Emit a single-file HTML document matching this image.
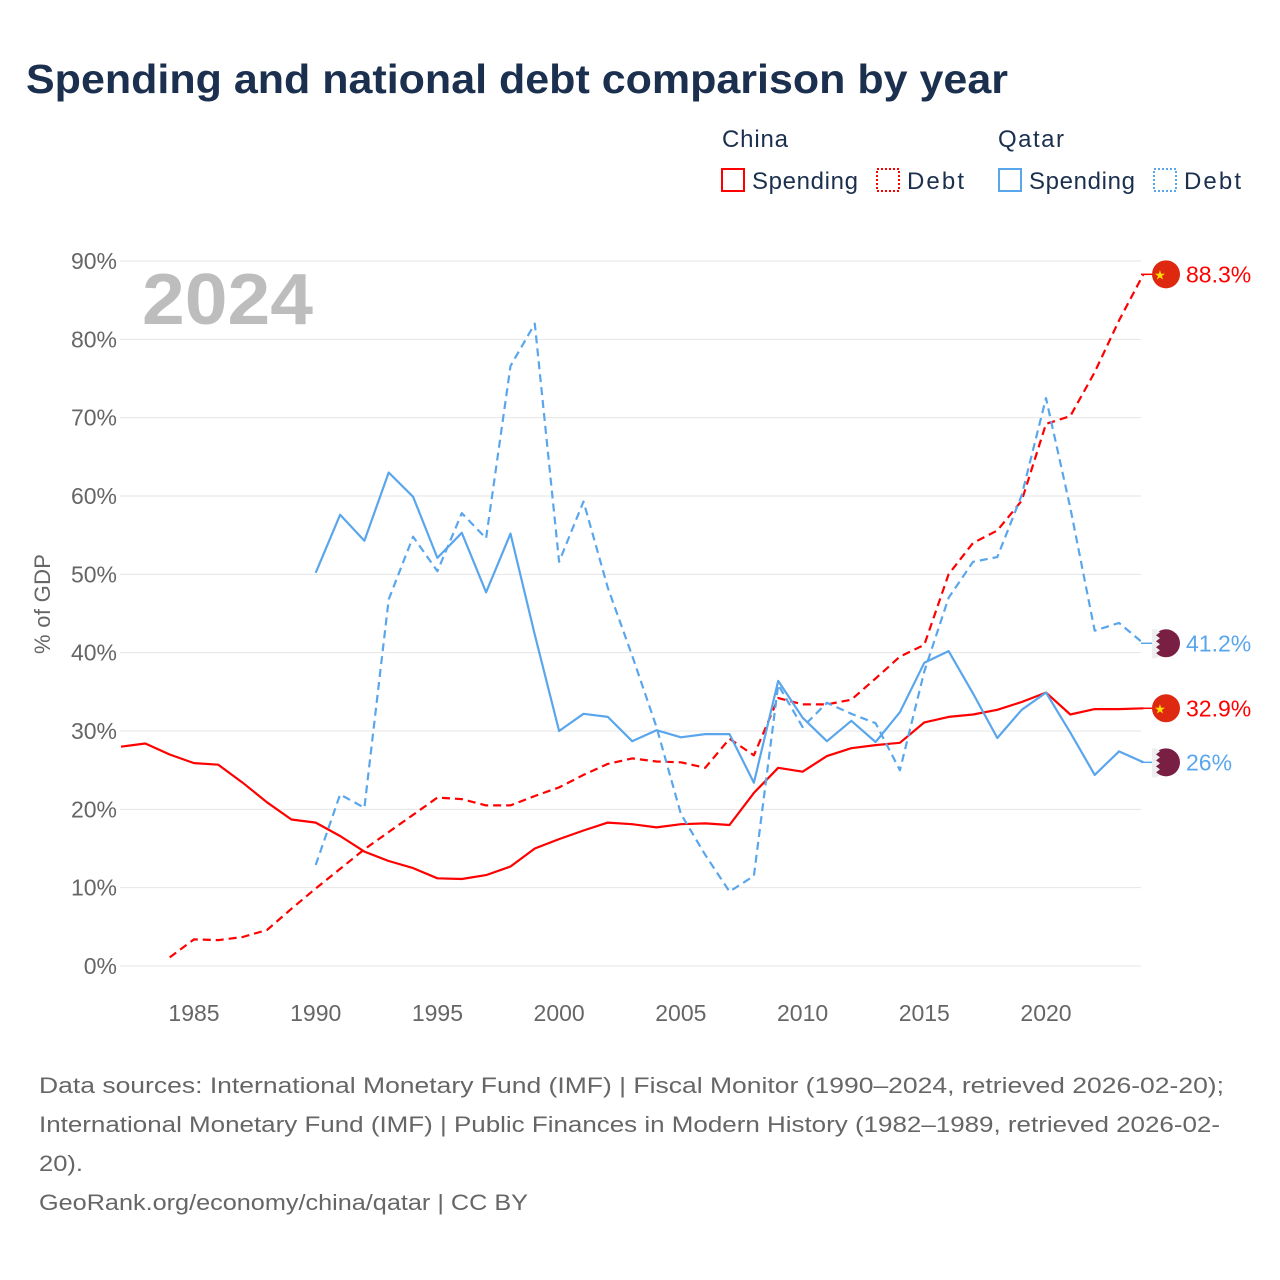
<!DOCTYPE html>
<html><head><meta charset="utf-8"><style>
body{margin:0;width:1280px;height:1280px;background:#fff;font-family:"Liberation Sans",sans-serif;overflow:hidden}
#c{position:absolute;left:0;top:0}
</style></head><body>
<svg id="c" width="1280" height="1280" font-family="Liberation Sans, sans-serif">
<text x="26" y="93" font-size="41" font-weight="bold" fill="#1b2f4e" textLength="982" lengthAdjust="spacingAndGlyphs">Spending and national debt comparison by year</text>
<g font-size="24" fill="#1b2f4e">
<text x="722" y="147" textLength="66">China</text>
<text x="998" y="147" textLength="66">Qatar</text>
<g><rect x="722" y="169" width="22" height="22" fill="none" stroke="#ff0000" stroke-width="2"/><text x="752" y="189" textLength="106">Spending</text></g>
<g><rect x="877" y="169" width="22" height="22" fill="none" stroke="#ff0000" stroke-width="2" stroke-dasharray="2,2"/><text x="907" y="189" textLength="57">Debt</text></g>
<g><rect x="999" y="169" width="22" height="22" fill="none" stroke="#5aa6ec" stroke-width="2"/><text x="1029" y="189" textLength="106">Spending</text></g>
<g><rect x="1154" y="169" width="22" height="22" fill="none" stroke="#5aa6ec" stroke-width="2" stroke-dasharray="2,2"/><text x="1184" y="189" textLength="57">Debt</text></g>
</g>
<text x="142" y="324" font-size="72" font-weight="bold" fill="#bdbdbd" textLength="171" lengthAdjust="spacingAndGlyphs">2024</text>
<text transform="translate(50,604) rotate(-90)" text-anchor="middle" font-size="22" fill="#666" textLength="100">% of GDP</text>
<g id="grid"></g><g id="series"></g><g id="ends"></g>
<g font-size="22" fill="#666">
<text x="39" y="1093" textLength="1185" lengthAdjust="spacingAndGlyphs">Data sources: International Monetary Fund (IMF) | Fiscal Monitor (1990–2024, retrieved 2026-02-20);</text>
<text x="39" y="1132" textLength="1181" lengthAdjust="spacingAndGlyphs">International Monetary Fund (IMF) | Public Finances in Modern History (1982–1989, retrieved 2026-02-</text>
<text x="39" y="1171" textLength="44" lengthAdjust="spacingAndGlyphs">20).</text>
<text x="39" y="1210" textLength="489" lengthAdjust="spacingAndGlyphs">GeoRank.org/economy/china/qatar | CC BY</text>
</g>
</svg>
<script>
const yTicks=[0,10,20,30,40,50,60,70,80,90];
const xTicks=[1985,1990,1995,2000,2005,2010,2015,2020];
const chinaSpendStart=1982;
const chinaSpending=[28.0,28.4,27.0,25.9,25.7,23.4,20.9,18.7,18.3,16.6,14.6,13.4,12.5,11.2,11.1,11.6,12.7,15.0,16.2,17.3,18.3,18.1,17.7,18.1,18.2,18.0,22.1,25.3,24.8,26.8,27.8,28.2,28.5,31.1,31.8,32.1,32.7,33.7,34.9,32.1,32.8,32.8,32.9];
const chinaDebtStart=1984;
const chinaDebt=[1.1,3.4,3.3,3.7,4.6,7.3,9.9,12.4,14.9,17.1,19.3,21.5,21.3,20.5,20.5,21.7,22.8,24.4,25.8,26.5,26.1,26.0,25.3,29.0,26.9,34.2,33.4,33.4,34.0,36.7,39.5,41.0,50.0,54.0,55.6,59.4,69.2,70.2,75.8,82.4,88.3];
const qatarStart=1990;
const qatarSpending=[50.2,57.6,54.3,63.0,59.9,52.1,55.3,47.7,55.2,42.3,30.0,32.2,31.8,28.7,30.1,29.2,29.6,29.6,23.4,36.4,31.7,28.7,31.3,28.6,32.4,38.7,40.2,34.8,29.1,32.7,34.9,29.8,24.4,27.4,26.0];
const qatarDebt=[12.9,21.9,20.2,46.8,54.8,50.4,57.8,54.6,76.6,82.0,51.6,59.3,48.3,39.6,30.5,19.4,14.2,9.5,11.5,35.9,30.5,33.6,32.2,31.0,25.0,37.6,47.0,51.6,52.2,60.1,72.5,58.5,42.8,43.8,41.2];

const NS='http://www.w3.org/2000/svg';
const X=y=>194+(y-1985)*(852/35);
const Y=v=>966-v*(705/90);
function el(t,a,p){const e=document.createElementNS(NS,t);for(const k in a)e.setAttribute(k,a[k]);p.appendChild(e);return e;}
const grid=document.getElementById('grid');
yTicks.forEach(t=>{
  const l=el('line',{x1:120,x2:1141,y1:Y(t),y2:Y(t),stroke:'#e6e6e6','stroke-width':1},grid);
  
  
  const tx=el('text',{x:117,y:Y(t)+8,'text-anchor':'end','font-size':23,fill:'#666'},grid);
  tx.textContent=t+'%';
  
  
});
xTicks.forEach(t=>{
  const tx=el('text',{x:X(t),y:1021,'text-anchor':'middle','font-size':23,fill:'#666'},grid);
  tx.textContent=t;
  
  
});
const ser=document.getElementById('series');
function line(data,start,color,dash,name){
  const pts=data.map((v,i)=>X(start+i).toFixed(1)+','+Y(v).toFixed(1)).join(' ');
  const p=el('polyline',{points:pts,fill:'none',stroke:color,'stroke-width':2.2,'stroke-linejoin':'round'},ser);
  if(dash)p.setAttribute('stroke-dasharray','8,5');
  
  
}
line(chinaSpending,chinaSpendStart,'#ff0000',false,'china-spending-line');
line(chinaDebt,chinaDebtStart,'#ff0000',true,'china-debt-line');
line(qatarSpending,qatarStart,'#5aa6ec',false,'qatar-spending-line');
line(qatarDebt,qatarStart,'#5aa6ec',true,'qatar-debt-line');
const ends=document.getElementById('ends');
function endLabel(v,color,china,name){
  const y=Y(v);
  el('line',{x1:1141,x2:1152,y1:y,y2:y,stroke:color,'stroke-width':1.5},ends);
  const c=el('circle',{cx:1166,cy:y,r:14,fill:china?'#de2910':'#7a1f44'},ends);
  
  
  if(china){const s=el('text',{x:1160,y:y+5,'font-size':13,fill:'#ffde00','text-anchor':'middle'},ends);s.textContent='★';}
  else{el('path',{d:`M1152,${y-14} h4 l4,3 l-4,3 l4,3 l-4,3 l4,3 l-4,3 l4,3 l-4,3 l4,3 l-4,2 h-4 z`,fill:'#eee'},ends);}
  const t=el('text',{x:1186,y:y+8,'font-size':23,fill:color},ends);
  t.textContent=(Math.round(v*10)/10)+'%';
  
  
}
endLabel(chinaDebt[chinaDebt.length-1],'#ff0000',true,'china-debt-end');
endLabel(qatarDebt[qatarDebt.length-1],'#5aa6ec',false,'qatar-debt-end');
endLabel(chinaSpending[chinaSpending.length-1],'#ff0000',true,'china-spending-end');
endLabel(qatarSpending[qatarSpending.length-1],'#5aa6ec',false,'qatar-spending-end');
</script>
</body></html>
